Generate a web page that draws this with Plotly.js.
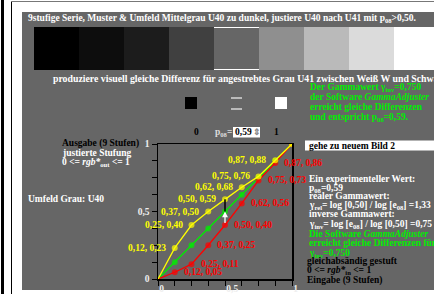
<!DOCTYPE html>
<html><head><meta charset="utf-8">
<script src="https://cdn.plot.ly/plotly-3.0.1.min.js"></script>
<style>html,body{margin:0;padding:0;background:#fff;overflow:hidden}</style>
</head><body><div id="chart" style="width:434px;height:294px"></div>
<script>
// ---- data ----
const steps       = [0, 0.125, 0.25, 0.375, 0.5, 0.625, 0.75, 0.875, 1];
const equalOut    = [0, 0.125, 0.25, 0.375, 0.5, 0.625, 0.75, 0.875, 1];
const adjustedOut = [0, 0.23, 0.40, 0.50, 0.59, 0.68, 0.76, 0.88, 1];
const realOut     = [0, 0.05, 0.11, 0.25, 0.40, 0.56, 0.73, 0.86, 1];
const patchGray   = [0, 0.05, 0.11, 0.25, 0.40, 0.56, 0.73, 0.86, 1];
const majorTickVals = [0, 0.5, 1];
const majorTickText = ['0', '0,5', '1'];
const minorTickVals = [0, 0.125, 0.25, 0.375, 0.5, 0.625, 0.75, 0.875, 1];
const markedIndex = 4;

// ---- helpers ----
const W = 434, H = 294;
const px = x => x / W, py = y => 1 - y / H;
const FONT = 'Liberation Serif, Times New Roman, serif';
const FS = 9.5;
const fmt = v => (Math.floor(v * 100 + 1e-9) / 100).toFixed(2).replace('.', ',');
const grayHex = v => { const c = Math.round(v * 255).toString(16).padStart(2, '0'); return '#' + c + c + c; };

const PANEL = '#666666';
const shapes = [];
const annotations = [];

// frame
shapes.push({type:'rect', xref:'paper', yref:'paper', x0:px(1), x1:px(4), y0:py(294), y1:py(0), fillcolor:'#000', line:{width:0}, layer:'below'});
shapes.push({type:'line', xref:'paper', yref:'paper', x0:px(11.5), x1:px(11.5), y0:py(294), y1:py(1.5), line:{color:'#000', width:1}, layer:'below'});
shapes.push({type:'line', xref:'paper', yref:'paper', x0:px(11), x1:px(434), y0:py(1.5), y1:py(1.5), line:{color:'#777', width:1}, layer:'below'});
shapes.push({type:'rect', xref:'paper', yref:'paper', x0:px(22), x1:px(434), y0:py(290), y1:py(12), fillcolor:PANEL, line:{width:0}, layer:'below'});

// patches
patchGray.forEach((g, i) => {
  const x0 = 34 + i * 45;
  shapes.push({type:'rect', xref:'paper', yref:'paper', x0:px(x0), x1:px(x0 + 45), y0:py(70), y1:py(27), fillcolor:grayHex(g), line:{width:0}, layer:'below'});
  if (i === markedIndex) {
    shapes.push({type:'line', xref:'paper', yref:'paper', x0:px(x0), x1:px(x0 + 45), y0:py(27.5), y1:py(27.5), line:{color:'#fff', width:1}, layer:'below'});
    shapes.push({type:'line', xref:'paper', yref:'paper', x0:px(x0), x1:px(x0 + 45), y0:py(69.5), y1:py(69.5), line:{color:'#fff', width:1}, layer:'below'});
  }
});

// control squares
shapes.push({type:'rect', xref:'paper', yref:'paper', x0:px(185), x1:px(197), y0:py(109), y1:py(97), fillcolor:'#000', line:{width:0}, layer:'below'});
shapes.push({type:'line', xref:'paper', yref:'paper', x0:px(231), x1:px(242), y0:py(98), y1:py(98), line:{color:'#bbb', width:2}, layer:'below'});
shapes.push({type:'line', xref:'paper', yref:'paper', x0:px(231), x1:px(242), y0:py(109), y1:py(109), line:{color:'#bbb', width:2}, layer:'below'});
shapes.push({type:'rect', xref:'paper', yref:'paper', x0:px(275), x1:px(287), y0:py(109), y1:py(97), fillcolor:'#fff', line:{width:0}, layer:'below'});
// input box
shapes.push({type:'rect', xref:'paper', yref:'paper', x0:px(233), x1:px(260), y0:py(137.5), y1:py(127), fillcolor:'#fff', line:{width:0}, layer:'below'});
// link box
shapes.push({type:'rect', xref:'paper', yref:'paper', x0:px(305), x1:px(434), y0:py(150.5), y1:py(140.5), fillcolor:'#fff', line:{width:0}, layer:'below'});

function txt(x, y, text, color, size, anchor) {
  annotations.push({xref:'paper', yref:'paper', x:px(x), y:py(y), text:text, showarrow:false,
    xanchor:anchor || 'left', yanchor:'middle', align:'left', borderpad:0,
    font:{family:FONT, size:size || FS, color:color, weight:700}});
}

txt(27, 19, '9stufige Serie, Muster &amp; Umfeld Mittelgrau U40 zu dunkel, justiere U40 nach U41 mit p<sub>08</sub>&gt;0,50.', '#fff');
txt(52, 78, 'produziere visuell gleiche Differenz für angestrebtes Grau U41 zwischen Weiß W und Schwarz N', '#fff', 9.8);
txt(193, 132, '0', '#000');
txt(214, 132, 'p<sub>08</sub>=', '#ddd');
txt(234, 132, '0,59', '#000');
txt(252, 132, '⇕', '#888', 9);
txt(273, 132, '1', '#000');

const G = '#00ee00';
txt(309, 87, 'Der Gammawert γ<sub>inv</sub>=0,750', G);
txt(309, 97, 'der Software <i>GammaAdjuster</i>', G);
txt(309, 107, 'erreicht gleiche Differenzen', G);
txt(309, 117, 'und entspricht p<sub>08</sub>=0,59.', G);
txt(308, 145.5, 'gehe zu neuem Bild 2', '#000');

txt(61, 143, 'Ausgabe (9 Stufen)', '#000');
txt(61, 153, 'justierte Stufung', '#fff');
txt(61, 163, '0 &lt;= <i>rgb*</i><sub>out</sub> &lt;= 1', '#fff');
txt(27, 199, 'Umfeld Grau: U40', '#fff');

const rightLines = [
  ['Ein experimenteller Wert:', '#fff'],
  ['p<sub>08</sub>=0,59', '#fff'],
  ['realer Gammawert:', '#fff'],
  ['γ<sub>rel</sub>= log [0,50] / log [e<sub>08</sub>] =1,33', '#fff'],
  ['inverse Gammawert:', '#fff'],
  ['γ<sub>inv</sub>= log [e<sub>08</sub>] / log [0,50] =0,75', '#fff'],
  ['Die Software <i>GammaAdjuster</i>', G],
  ['erreicht gleiche Differenzen für', G],
  ['γ<sub>inv</sub>=0,750', G],
  ['gleichabsändig gestuft', '#000'],
  ['0 &lt;= <i>rgb*</i><sub>in</sub> &lt;= 1', '#000'],
  ['Eingabe (9 Stufen)', '#000']
];
const rightY = [179, 188, 196, 205, 214, 224, 234, 243, 253, 261, 270, 280];
rightLines.forEach((l, i) => txt(l[1] === '#000' ? 306 : 308, rightY[i], l[0], l[1]));

// point labels
for (let i = 1; i < steps.length - 1; i++) {
  annotations.push({xref:'x', yref:'y', x:steps[i], y:adjustedOut[i], text:fmt(steps[i]) + ', ' + fmt(adjustedOut[i]),
    showarrow:false, xanchor:'right', yanchor:'middle', xshift:-8, borderpad:0, font:{family:FONT, size:FS, color:'#ffff00', weight:700}});
  annotations.push({xref:'x', yref:'y', x:steps[i], y:realOut[i], text:fmt(steps[i]) + ', ' + fmt(realOut[i]),
    showarrow:false, xanchor:'left', yanchor:'middle', xshift:8, borderpad:0, font:{family:FONT, size:FS, color:'#ff0000', weight:700}});
}
// arrow at marked step
annotations.push({xref:'x', yref:'y', axref:'x', ayref:'y', x:steps[markedIndex], y:equalOut[markedIndex],
  ax:steps[markedIndex], ay:realOut[markedIndex], text:' ', showarrow:true, arrowhead:2, arrowsize:0.9,
  arrowwidth:1.3, arrowcolor:'#fff', font:{size:1}});
shapes.push({type:'line', xref:'x', yref:'y', x0:steps[markedIndex], x1:steps[markedIndex],
  y0:equalOut[markedIndex], y1:adjustedOut[markedIndex], line:{color:'#000', width:1.5}});

const msize = steps.map((s, i) => i === 0 ? 0 : 6);
const traces = [
  {x:steps, y:equalOut, mode:'lines+markers', line:{color:'#00ee00', width:1.3}, marker:{color:'#00ee00', size:msize, line:{width:0}}},
  {x:steps, y:realOut, mode:'lines+markers', line:{color:'#ff0000', width:1.3}, marker:{color:'#ff0000', size:msize, line:{width:0}}},
  {x:steps, y:adjustedOut, mode:'lines+markers', line:{color:'#ffff00', width:1.3}, marker:{color:'#ffff00', size:msize, line:{width:0}}}
];

const axisCommon = {range:[0, 1], tickvals:majorTickVals, ticktext:majorTickText, ticks:'outside', ticklen:5,
  tickcolor:'#000', tickwidth:1, showline:true, linecolor:'#000', linewidth:1.5, mirror:true,
  showgrid:false, zeroline:false, fixedrange:true,
  minor:{tickvals:minorTickVals, ticks:'outside', ticklen:5, tickcolor:'#000', tickwidth:1, showgrid:false},
  tickfont:{family:FONT, size:FS, color:'#eee', weight:700}};

const layout = {
  width:W, height:H, margin:{l:0, r:0, t:0, b:0, pad:0},
  paper_bgcolor:'#fff', plot_bgcolor:PANEL, showlegend:false,
  xaxis:Object.assign({}, axisCommon, {domain:[px(158), px(292)], ticklabelposition:'outside right'}),
  yaxis:Object.assign({}, axisCommon, {domain:[py(279), py(144)]}),
  shapes:shapes, annotations:annotations
};
Plotly.newPlot('chart', traces, layout, {staticPlot:true, displayModeBar:false});
</script></body></html>
